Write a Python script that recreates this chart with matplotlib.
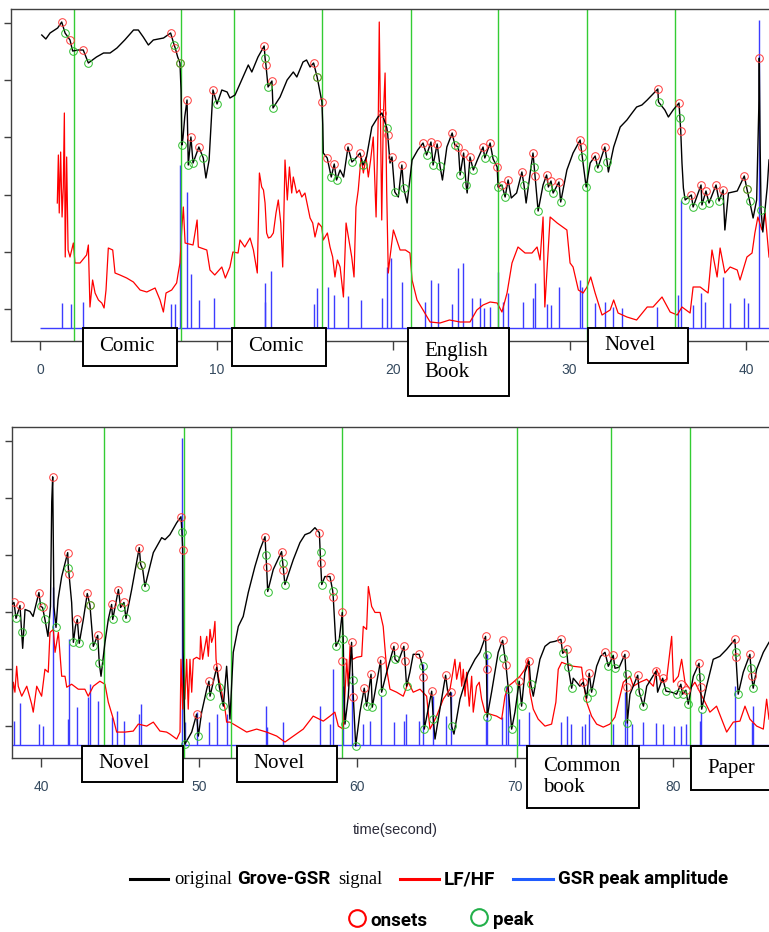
import numpy as np
import matplotlib.pyplot as plt
from matplotlib.patches import Rectangle
from matplotlib.lines import Line2D
from matplotlib import transforms

# ---- top panel (0 - 41 s) ----
top_gsr = [(0.1, 274), (0.33, 270), (0.57, 276), (1.0, 281), (1.23, 287), (1.42, 276), (1.7, 269),
           (1.85, 258), (2.17, 259), (2.45, 259), (2.74, 246), (3.2, 252), (3.6, 256), (3.97, 256),
           (4.36, 261), (4.8, 269), (5.3, 279), (5.57, 279), (5.85, 272), (6.14, 264), (6.42, 269),
           (7.0, 271), (7.4, 276), (7.6, 264), (7.66, 261), (7.8, 252), (7.93, 246), (7.99, 219),
           (8.04, 164), (8.1, 171), (8.2, 192), (8.33, 209), (8.4, 144), (8.55, 172), (8.67, 146),
           (9.0, 162), (9.25, 151), (9.4, 131), (9.58, 149), (9.8, 219), (10.03, 205), (10.3, 219),
           (10.6, 217), (10.76, 211), (11.05, 214), (11.5, 232), (11.8, 244), (12.0, 237), (12.35, 252),
           (12.7, 263), (12.75, 251), (12.8, 244), (12.92, 222), (13.14, 228), (13.2, 201), (13.6, 212),
           (14.0, 229), (14.35, 237), (14.55, 232), (14.9, 247), (15.1, 249), (15.3, 242), (15.5, 246),
           (15.7, 232), (15.97, 207), (16.02, 184), (16.05, 156), (16.27, 151), (16.5, 132), (16.67, 145),
           (16.8, 129), (17.0, 139), (17.2, 132), (17.45, 162), (17.67, 147), (17.85, 150), (18.13, 156),
           (18.3, 144), (18.5, 152), (18.8, 182), (19.15, 192), (19.37, 196), (19.65, 181), (19.7, 174),
           (19.83, 146), (19.94, 152), (20.1, 117), (20.3, 112), (20.5, 144), (20.6, 121), (20.8, 106),
           (21.08, 149), (21.4, 159), (21.7, 166), (21.9, 154), (22.15, 167), (22.27, 144), (22.5, 165),
           (22.66, 143), (22.8, 129), (23.05, 162), (23.35, 176), (23.5, 164), (23.7, 162), (23.8, 134),
           (24.0, 156), (24.14, 124), (24.2, 116), (24.36, 152), (24.55, 139), (24.8, 150), (25.1, 162),
           (25.2, 151), (25.5, 166), (25.67, 150), (25.9, 142), (25.95, 122), (26.17, 124), (26.35, 112),
           (26.52, 129), (26.7, 111), (27.0, 116), (27.3, 137), (27.42, 124), (27.54, 106), (27.77, 136),
           (27.93, 156), (28.0, 142), (28.05, 133), (28.22, 98), (28.5, 124), (28.7, 134), (28.8, 122),
           (28.95, 128), (29.07, 116), (29.4, 127), (29.5, 107), (29.85, 139), (30.2, 156), (30.6, 169),
           (30.94, 122), (31.17, 146), (31.45, 153), (31.6, 141), (32.0, 162), (32.13, 147), (32.2, 137),
           (32.5, 162), (32.87, 182), (33.25, 189), (33.5, 195), (33.8, 202), (34.1, 204), (34.4, 209),
           (35.0, 220), (35.04, 207), (35.4, 199), (35.6, 192), (35.87, 199), (36.2, 206), (36.3, 178),
           (36.37, 146), (36.45, 121), (36.55, 109), (36.9, 114), (37.0, 102), (37.45, 124), (37.5, 104),
           (37.73, 118), (37.9, 106), (38.3, 124), (38.47, 108), (38.7, 119), (38.8, 79), (39.0, 116),
           (39.5, 118), (39.9, 133), (40.05, 120), (40.2, 108), (40.4, 91), (40.6, 109), (40.72, 200),
           (40.75, 251), (40.8, 160), (40.85, 99), (40.95, 77), (41.2, 122), (41.3, 149)]

top_lfhf = [(0.98, 106), (1.04, 154), (1.09, 96), (1.17, 157), (1.25, 92), (1.32, 122), (1.38, 196),
            (1.43, 52), (1.51, 152), (1.59, 59), (1.7, 52), (1.89, 66), (1.98, 46), (2.27, 46),
            (2.64, 54), (2.74, 64), (2.83, 2), (2.98, 29), (3.12, 16), (3.31, 9), (3.5, 6), (3.63, 1),
            (3.74, 19), (3.87, 61), (4.12, 59), (4.25, 36), (4.53, 34), (4.91, 31), (5.29, 27),
            (5.67, 19), (6.05, 17), (6.52, 21), (6.8, 9), (6.99, -3), (7.14, 16), (7.46, 19), (7.74, 26),
            (7.84, 37), (7.93, 46), (8.03, 79), (8.12, 102), (8.22, 66), (8.67, 64), (8.9, 89),
            (8.97, 62), (9.45, 59), (9.63, 39), (9.9, 34), (10.3, 42), (10.5, 31), (10.76, 42),
            (10.93, 57), (11.22, 56), (11.33, 69), (11.6, 62), (11.9, 71), (12.09, 59), (12.31, 36),
            (12.43, 136), (12.56, 122), (12.66, 119), (12.75, 106), (12.84, 76), (12.94, 71), (13.07, 72),
            (13.22, 76), (13.37, 96), (13.5, 109), (13.64, 86), (13.75, 42), (13.79, 72), (13.88, 149),
            (14.01, 109), (14.13, 142), (14.26, 116), (14.35, 132), (14.54, 116), (14.69, 119),
            (14.83, 112), (15.01, 116), (15.15, 104), (15.3, 91), (15.45, 86), (15.58, 72), (15.77, 86),
            (15.96, 82), (16.05, 69), (16.28, 76), (16.43, 62), (16.58, 52), (16.71, 32), (16.85, 49),
            (17.0, 42), (17.19, 12), (17.34, 86), (17.47, 72), (17.66, 52), (17.79, 32), (17.9, 102),
            (18.03, 119), (18.19, 152), (18.32, 136), (18.47, 152), (18.6, 132), (18.73, 149),
            (18.88, 172), (19.04, 92), (19.17, 199), (19.22, 287), (19.36, 89), (19.45, 192),
            (19.55, 236), (19.64, 119), (19.73, 36), (19.83, 52), (20.02, 79), (20.4, 59), (20.7, 59),
            (20.96, 56), (21.08, 29), (21.36, 9), (21.7, -1), (22.1, -13), (22.66, -14), (23.2, -11),
            (23.8, -13), (24.36, -13), (24.75, -1), (25.1, 4), (25.5, 7), (25.9, 6), (26.17, -3),
            (26.46, 16), (26.74, 46), (27.08, 62), (27.48, 56), (27.87, 56), (28.16, 62), (28.33, 49),
            (28.5, 92), (28.6, 2), (28.9, 92), (29.3, 86), (29.85, 79), (30.03, 46), (30.2, 42),
            (30.5, 19), (30.77, 16), (30.99, 22), (31.2, 32), (31.45, 16), (31.84, -6), (32.3, -1),
            (32.5, 9), (32.75, -4), (33.25, -8), (33.8, -11), (34.4, 2), (34.73, 2), (35.24, 12),
            (35.7, -3), (36.1, -6), (36.37, 2), (36.83, -4), (37.0, 22), (37.4, 22), (37.85, 16),
            (38.07, 59), (38.36, 32), (38.53, 61), (38.8, 36), (39.1, 42), (39.5, 39), (39.66, 29),
            (40.05, 52), (40.34, 56), (40.5, 76), (40.67, 92), (40.9, 79), (41.08, 96), (41.3, 52)]

top_peak_amp = [(1.23, 6), (1.74, 5), (2.45, 7), (7.4, 5), (7.65, 5), (7.93, 144), (8.31, 117), (8.54, 35),
                (9.03, 9), (9.88, 11), (12.72, 7), (12.75, 26), (13.09, 38), (15.55, 5), (15.68, 21),
                (16.3, 22), (16.68, 14), (17.47, 13), (18.17, 9), (19.36, 11), (19.64, 42), (19.87, 51),
                (20.53, 27), (21.81, 7), (22.15, 29), (22.53, 26), (23.32, 5), (23.7, 41), (23.98, 46),
                (24.46, 11), (24.93, 11), (25.18, 1), (25.5, 2), (25.93, 37), (26.25, 7), (26.5, 16),
                (27.35, 7), (27.95, 11), (28.04, 26), (28.7, 5), (28.95, 4), (29.4, 22), (30.6, 29),
                (30.69, 22), (31.44, 6), (32.0, 7), (32.48, 2), (32.96, 1), (34.98, 2), (36.17, 14),
                (36.32, 109), (36.98, 4), (37.45, 16), (37.68, 7), (38.71, 32), (39.1, 6), (39.89, 11),
                (40.13, 6), (40.75, 289)]

top_onsets = [(1.23, 287), (1.7, 269), (2.45, 259), (7.4, 276), (7.66, 261), (7.93, 246), (8.33, 209),
              (8.55, 172), (9.0, 162), (9.8, 219), (12.7, 263), (12.8, 244), (13.14, 228), (15.5, 246),
              (15.7, 232), (15.97, 207), (16.27, 151), (16.67, 145), (17.45, 162), (18.13, 156),
              (19.37, 196), (19.7, 174), (19.94, 152), (20.5, 144), (21.7, 166), (22.15, 167), (22.5, 165),
              (23.35, 176), (23.7, 162), (24.0, 156), (24.36, 152), (25.1, 162), (25.5, 166), (25.9, 142),
              (26.17, 124), (26.52, 129), (27.3, 137), (27.93, 156), (28.05, 133), (28.7, 134),
              (28.95, 128), (29.4, 127), (30.6, 169), (30.72, 162), (31.45, 153), (32.0, 162), (35.0, 220),
              (36.2, 206), (36.3, 178), (36.9, 114), (37.45, 124), (37.73, 118), (38.3, 124), (38.7, 119),
              (39.9, 133), (40.05, 120), (40.75, 251)]

top_peaks = [(1.42, 276), (1.85, 258), (2.74, 246), (7.6, 264), (7.93, 246), (8.04, 164), (8.4, 144),
             (8.67, 146), (9.25, 151), (10.03, 205), (12.75, 251), (12.92, 222), (13.2, 201), (15.7, 232),
             (16.5, 132), (16.8, 129), (17.67, 147), (18.3, 144), (19.65, 181), (20.1, 117), (20.6, 121),
             (21.9, 154), (22.27, 144), (22.66, 143), (23.5, 164), (23.8, 134), (24.14, 124), (24.55, 139),
             (25.2, 151), (25.67, 150), (25.95, 122), (26.35, 112), (27.42, 124), (28.0, 142), (28.22, 98),
             (28.8, 122), (29.07, 116), (29.5, 107), (30.7, 152), (30.94, 122), (31.6, 141), (32.13, 147),
             (35.04, 207), (36.26, 191), (36.55, 109), (37.0, 102), (37.5, 104), (37.9, 106), (38.47, 108),
             (40.05, 120), (40.2, 108), (40.85, 99)]

top_switches = [1.95, 8.0, 11.0, 16.0, 21.0, 25.95, 31.0, 36.0]
top_labels = [("Comic", 2.44, 7.76, 38), ("Comic", 10.88, 16.2, 38),
              ("English\nBook", 20.85, 26.57, 68), ("Novel", 31.05, 36.71, 35)]

# ---- bottom panel (38 - 86 s) ----
bot_gsr = [(38.15, 122), (38.29, 124), (38.42, 108), (38.67, 121), (38.78, 94), (38.84, 78), (38.99, 117),
           (39.3, 115), (39.5, 110), (39.87, 134), (39.98, 120), (40.1, 119), (40.25, 107), (40.44, 90),
           (40.6, 120), (40.68, 225), (40.74, 250), (40.78, 180), (40.82, 120), (40.95, 99), (41.08, 127),
           (41.31, 150), (41.69, 174), (41.73, 159), (41.77, 153), (41.94, 124), (42.05, 84), (42.18, 100),
           (42.3, 107), (42.42, 83), (42.68, 107), (42.93, 133), (43.1, 121), (43.31, 80), (43.59, 91),
           (43.69, 63), (43.8, 50), (44.05, 84), (44.26, 107), (44.47, 122), (44.54, 107), (44.9, 137),
           (45.04, 119), (45.25, 124), (45.38, 108), (45.74, 137), (46.22, 179), (46.31, 162), (46.44, 157),
           (46.58, 140), (47.11, 174), (47.64, 189), (47.85, 187), (48.16, 192), (48.59, 204), (48.86, 210),
           (48.92, 195), (48.97, 177), (49.0, 74), (49.11, -18), (49.54, -6), (49.85, 12), (49.96, -10),
           (50.17, 14), (50.49, 37), (50.63, 45), (50.7, 30), (51.12, 59), (51.29, 39), (51.54, 20),
           (51.75, 60), (51.96, 7), (52.17, 74), (52.49, 100), (52.8, 110), (53.12, 134), (53.54, 160),
           (53.86, 177), (54.18, 190), (54.24, 172), (54.28, 160), (54.35, 135), (54.7, 157), (55.23, 175),
           (55.3, 164), (55.34, 157), (55.44, 142), (55.97, 167), (56.39, 184), (56.71, 192), (57.03, 194),
           (57.34, 199), (57.62, 194), (57.7, 164), (57.77, 142), (57.97, 150), (58.29, 150), (58.46, 136),
           (58.5, 129), (58.67, 80), (58.88, 87), (59.07, 114), (59.13, 87), (59.18, 40), (59.24, 2),
           (59.45, 30), (59.66, 84), (59.73, 46), (59.77, 29), (59.92, -20), (60.19, 14), (60.46, 38),
           (60.61, 20), (60.89, 52), (60.97, 19), (61.5, 66), (61.56, 34), (61.88, 54), (62.34, 80),
           (62.41, 67), (62.6, 64), (62.97, 80), (63.04, 65), (63.14, 40), (63.35, 54), (63.56, 72),
           (63.94, 72), (64.15, 60), (64.2, 49), (64.26, -3), (64.51, 17), (64.73, 35), (64.83, 7),
           (64.94, -13), (65.25, 17), (65.61, 51), (65.78, 30), (65.93, 34), (65.99, 0), (66.14, -8),
           (66.52, 27), (67.04, 54), (67.47, 67), (67.78, 74), (68.14, 90), (68.2, 57), (68.24, 9),
           (68.52, 34), (68.94, 74), (69.22, 86), (69.43, 61), (69.58, 37), (69.79, -3), (70.0, 14),
           (70.27, 45), (70.42, 20), (70.63, 54), (70.89, 65), (71.0, 42), (71.16, 30), (71.58, 67),
           (71.9, 80), (72.22, 84), (72.53, 85), (72.91, 87), (73.02, 73), (73.27, 77), (73.37, 59),
           (73.59, 38), (73.69, 48), (74.11, 40), (74.32, 44), (74.54, 28), (74.7, 53), (74.85, 34),
           (75.17, 60), (75.42, 70), (75.7, 74), (75.91, 60), (76.22, 71), (76.33, 58), (76.6, 59),
           (76.96, 72), (77.07, 39), (77.11, 3), (77.28, 32), (77.77, 51), (77.87, 34), (78.13, 20),
           (78.34, 40), (78.92, 55), (79.03, 34), (79.35, 48), (79.56, 35), (79.92, 34), (80.23, 32),
           (80.5, 42), (80.61, 32), (80.82, 36), (80.97, 22), (81.29, 50), (81.65, 63), (81.75, 39),
           (81.82, 17), (82.13, 40), (82.55, 67), (82.97, 70), (83.4, 77), (83.92, 87), (83.99, 69),
           (84.13, 32), (84.45, 54), (84.87, 72), (84.98, 50), (85.08, 38), (85.3, 57), (85.72, 74),
           (86.08, 84)]

bot_lfhf = [(38.15, 24), (38.25, 44), (38.35, 34), (38.46, 60), (38.56, 40), (38.78, 30), (39.1, 40),
            (39.41, 22), (39.51, 14), (39.73, 40), (40.04, 30), (40.25, 57), (40.46, 54), (40.57, 94),
            (40.78, 97), (40.89, 74), (41.1, 94), (41.31, 50), (41.52, 50), (41.63, 39), (41.94, 42),
            (42.36, 37), (42.78, 37), (42.99, 30), (43.31, 40), (43.73, 45), (44.05, 42), (44.26, 24),
            (44.58, 7), (44.79, -6), (45.32, -6), (45.84, -5), (46.16, 2), (46.69, 0), (47.11, 4),
            (47.53, -5), (47.95, -6), (48.16, -8), (48.59, -13), (48.8, -6), (48.86, 67), (48.97, 17),
            (49.05, 69), (49.11, 27), (49.22, 67), (49.32, 17), (49.43, 67), (49.54, 34), (49.64, 67),
            (49.85, 69), (50.06, 67), (50.1, 90), (50.23, 67), (50.38, 80), (50.49, 90), (50.59, 70),
            (50.7, 97), (50.8, 84), (50.91, 90), (51.01, 105), (51.08, 67), (51.22, 50), (51.44, 34),
            (51.65, 17), (51.75, 4), (51.96, 4), (52.39, 0), (53.02, -6), (53.65, -3), (54.28, -6),
            (54.92, -10), (55.44, -16), (55.97, -10), (56.6, -3), (57.23, 10), (57.87, 5), (58.29, 10),
            (58.6, 14), (58.82, 0), (59.13, -3), (59.35, 67), (59.45, 40), (59.56, 80), (59.73, 67),
            (59.98, 69), (60.3, 70), (60.4, 100), (60.61, 97), (60.72, 140), (60.93, 120), (61.14, 114),
            (61.46, 114), (61.66, 100), (61.88, 57), (62.09, 37), (62.51, 34), (62.93, 30), (63.25, 44),
            (63.56, 34), (63.99, 37), (64.41, 30), (64.62, -3), (65.04, 10), (65.46, 27), (65.89, 37),
            (66.2, 67), (66.31, 47), (66.52, 64), (66.63, 40), (66.73, 57), (66.84, 30), (66.94, 54),
            (67.11, 20), (67.26, 50), (67.36, 14), (67.57, 40), (67.74, 44), (67.89, 27), (68.1, 14),
            (68.42, 12), (68.84, 10), (69.16, 7), (69.37, 30), (69.58, 40), (69.89, 44), (70.32, 50),
            (70.63, 57), (70.84, 67), (70.95, 34), (71.16, 17), (71.47, 7), (71.9, 0), (72.32, 2),
            (72.59, 24), (72.74, 57), (72.96, 64), (73.27, 62), (73.69, 60), (74.22, 59), (74.37, 40),
            (74.54, 24), (74.85, 10), (75.17, 2), (75.59, -1), (76.01, 2), (76.33, 9), (76.65, 30),
            (76.86, 44), (77.28, 50), (77.49, 40), (77.91, 44), (78.34, 47), (78.76, 40), (78.97, 57),
            (79.28, 44), (79.6, 47), (79.92, 90), (80.03, 44), (80.34, 50), (80.55, 67), (80.76, 44),
            (81.08, 37), (81.39, 44), (81.71, 34), (82.03, 24), (82.34, 14), (82.76, 20), (83.08, 7),
            (83.4, -6), (83.82, 4), (84.24, 5), (84.56, 20), (84.87, 7), (85.3, 0), (85.72, -3),
            (85.93, 27), (86.08, 7)]

bot_peak_amp = [(38.29, 5), (38.67, 23), (39.89, 2), (40.1, 0), (40.74, 140), (41.69, 7), (41.79, 87),
                (42.3, 19), (42.99, 29), (43.1, 42), (43.63, 25), (44.47, 9), (44.79, 15), (45.25, 5),
                (46.22, 12), (46.31, 22), (48.94, 289), (49.11, 4), (49.85, 14), (50.63, 4), (51.12, 12),
                (51.75, 12), (54.22, 20), (54.28, -1), (55.34, 4), (57.66, 20), (58.29, 2), (58.5, 57),
                (59.13, 40), (59.66, 53), (60.4, 2), (60.82, 5), (61.5, 30), (62.34, 4), (62.97, 5),
                (63.1, 12), (63.94, 5), (64.2, 62), (64.79, 30), (65.61, 10), (65.93, 34), (68.16, 7),
                (68.25, 72), (69.16, 9), (69.43, 40), (69.58, 35), (70.27, 7), (70.89, 14), (72.91, 4),
                (73.27, 10), (73.53, 2), (74.22, 0), (74.43, 2), (74.7, 12), (76.22, 2), (76.96, 34),
                (77.07, 5), (77.39, 2), (78.08, 4), (78.92, 3), (79.35, 2), (80.08, 0), (80.51, 0),
                (80.8, 2), (81.71, 5), (81.75, 14), (83.92, 40), (84.98, 4), (85.08, 20)]

bot_onsets = [(38.29, 124), (38.67, 121), (39.87, 134), (40.1, 119), (40.74, 250), (41.69, 174),
              (41.77, 153), (42.3, 107), (42.93, 133), (43.1, 121), (43.59, 91), (44.47, 122), (44.9, 137),
              (45.25, 124), (46.22, 179), (46.31, 162), (48.86, 210), (48.97, 177), (49.85, 12),
              (50.63, 45), (51.12, 59), (54.18, 190), (54.28, 160), (55.23, 175), (55.34, 157),
              (57.62, 194), (57.7, 164), (58.29, 150), (58.5, 129), (59.07, 114), (59.03, 65),
              (59.66, 84), (59.77, 29), (60.46, 38), (60.89, 52), (61.5, 66), (62.34, 80), (62.97, 80),
              (63.04, 65), (63.94, 72), (64.2, 49), (64.73, 35), (65.61, 51), (65.93, 34), (68.14, 90),
              (68.2, 57), (69.22, 86), (69.43, 61), (70.27, 45), (70.89, 65), (72.91, 87), (73.27, 77),
              (74.32, 44), (74.7, 53), (75.7, 74), (76.22, 71), (76.96, 72), (77.07, 39), (77.77, 51),
              (78.92, 55), (79.35, 48), (80.5, 42), (80.82, 36), (81.65, 63), (81.75, 39), (83.92, 87),
              (83.99, 69), (84.87, 72), (84.98, 50)]

bot_peaks = [(38.42, 108), (38.78, 94), (39.98, 120), (40.25, 107), (40.95, 99), (41.73, 159), (42.05, 84),
             (42.42, 83), (43.1, 121), (43.31, 80), (43.69, 63), (44.54, 107), (45.04, 119), (45.38, 108),
             (46.31, 162), (46.58, 140), (48.92, 195), (49.11, -18), (49.96, -10), (50.7, 30), (51.29, 39),
             (51.54, 20), (54.24, 172), (54.35, 135), (55.3, 164), (55.44, 142), (57.7, 175), (57.77, 142),
             (58.46, 136), (58.67, 80), (59.13, 87), (59.24, 2), (59.73, 46), (59.92, -20), (60.61, 20),
             (60.97, 19), (61.56, 34), (62.41, 67), (63.14, 40), (64.15, 60), (64.26, -3), (64.83, 7),
             (65.99, 0), (68.2, 71), (68.24, 9), (69.26, 68), (69.58, 37), (69.79, -3), (70.42, 20),
             (71.0, 42), (73.02, 73), (73.37, 59), (73.59, 38), (74.54, 28), (74.85, 34), (75.91, 60),
             (76.33, 58), (77.07, 52), (77.11, 3), (77.87, 34), (78.13, 20), (79.56, 35), (80.23, 32),
             (80.61, 32), (80.97, 22), (81.71, 49), (81.82, 17), (83.99, 74), (84.13, 32), (84.94, 58),
             (85.08, 38)]

bot_switches = [44.0, 49.05, 52.0, 59.05, 70.1, 76.1, 81.1]
bot_labels = [("Novel", 42.59, 48.99, 36), ("Novel", 52.41, 58.73, 36),
              ("Common\nbook", 70.76, 77.85, 62), ("Paper", 81.14, 88.0, 44)]

yticks = [0, 57.2, 114.4, 171.6, 228.8, 286]
BASE = -19

W, H = 769, 932
fig = plt.figure(figsize=(W / 100, H / 100), dpi=100)


def fx(px):
    return px / W


def fy(py):
    return 1 - py / H


def draw_panel(ax, gsr, lfhf, amp, onsets, peaks, switches, labels, xlim, base_start, xticks, box_top):
    g = np.array(gsr).T
    r = np.array(lfhf).T
    a = np.array(amp).T
    on = np.array(onsets).T
    pk = np.array(peaks).T

    ax.hlines(BASE, base_start, xlim[1], color='#3c3cff', lw=1.0, zorder=1)
    ax.vlines(a[0], BASE, a[1], color='#3c3cff', lw=1.0, zorder=1)
    ax.plot(r[0], r[1], color='#ff0000', lw=0.9, zorder=2)
    for s in switches:
        ax.axvline(s, color='#33cc33', lw=1.0, zorder=2.5)
    ax.plot(g[0], g[1], color='black', lw=1.0, zorder=3)
    ax.plot(on[0], on[1], 'o', mfc='none', mec='#ff3b3b', ms=5.5, mew=0.7, zorder=4)
    ax.plot(pk[0], pk[1], 'o', mfc='none', mec='#2fbf2f', ms=5.5, mew=0.7, zorder=4)

    trans = transforms.blended_transform_factory(ax.transData, fig.transFigure)
    for text, t0, t1, h in labels:
        rect = Rectangle((t0, fy(box_top + h)), t1 - t0, h / H, transform=trans,
                         fc='white', ec='black', lw=1.4, zorder=10, clip_on=False)
        ax.add_patch(rect)
        ax.text(t0, fy(box_top + h / 2), text,
                transform=transforms.offset_copy(trans, fig=fig, x=16, y=0, units='dots'),
                ha='left', va='center', fontsize=15, family='Liberation Serif',
                linespacing=1.2, zorder=11, clip_on=False)

    ax.set_xlim(xlim)
    ax.set_ylim(-32, 300)
    ax.set_xticks(xticks)
    ax.set_yticks(yticks)
    ax.set_yticklabels([])
    ax.tick_params(axis='x', length=6.5, width=1, color='#404040', labelsize=10,
                   labelcolor='#34495e', pad=9)
    ax.tick_params(axis='y', length=5, width=1, color='#404040')
    for lbl in ax.get_xticklabels():
        lbl.set_family('Liberation Sans')
    for side in ['left', 'top', 'bottom']:
        ax.spines[side].set_color('#404040')
        ax.spines[side].set_linewidth(1.0)
    ax.spines['right'].set_visible(False)


ax1 = fig.add_axes([fx(11), fy(341), fx(769) - fx(11), (341 - 9) / H])
draw_panel(ax1, top_gsr, top_lfhf, top_peak_amp, top_onsets, top_peaks, top_switches, top_labels,
           (-1.643, 41.3), 0.0, [0, 10, 20, 30, 40], 328)

ax2 = fig.add_axes([fx(12), fy(758), fx(769) - fx(12), (758 - 427) / H])
draw_panel(ax2, bot_gsr, bot_lfhf, bot_peak_amp, bot_onsets, bot_peaks, bot_switches, bot_labels,
           (38.165, 86.08), 38.165, [40, 50, 60, 70, 80], 746)

fig.text(fx(395), fy(830), 'time(second)', ha='center', va='center',
         family='Liberation Sans', fontsize=10.5, color='#2b2b3a')

# legend drawn by hand, as in the figure
sans = ['Roboto', 'DejaVu Sans']
bold = dict(family=sans, fontweight='bold', fontsize=13.5, va='baseline')
serif = dict(family='Liberation Serif', fontsize=13.3, va='baseline')
fig.add_artist(Line2D([fx(130), fx(168)], [fy(879), fy(879)], color='black', lw=2.2))
fig.text(fx(174), fy(884), 'original', **serif)
fig.text(fx(237), fy(884), 'Grove-GSR', **bold)
fig.text(fx(338), fy(884), 'signal', **serif)
fig.add_artist(Line2D([fx(400), fx(439)], [fy(879), fy(879)], color='#ff0000', lw=2.2))
fig.text(fx(444), fy(884), 'LF/HF', **bold)
fig.add_artist(Line2D([fx(513), fx(553)], [fy(879), fy(879)], color='#1f5cff', lw=2.2))
fig.text(fx(558), fy(884), 'GSR peak amplitude', **bold)

fig.add_artist(Line2D([fx(357)], [fy(918)], marker='o', ms=12, mfc='none', mec='#ff0000', mew=1.5))
fig.text(fx(370), fy(926), 'onsets', **bold)
fig.add_artist(Line2D([fx(479)], [fy(917)], marker='o', ms=12, mfc='none', mec='#22b04a', mew=1.5))
fig.text(fx(493), fy(925), 'peak', **bold)

fig.savefig('out.png', dpi=100)
